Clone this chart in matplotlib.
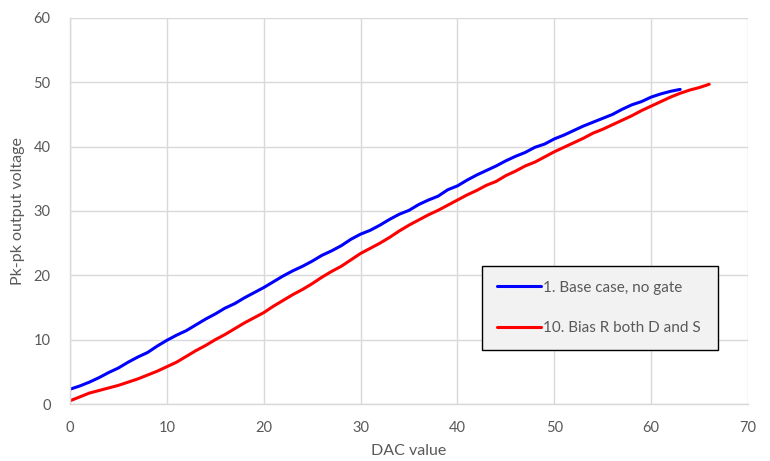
import matplotlib.pyplot as plt

# Pk-pk output vs DAC code, one reading per DAC step
base_case = [
    2.3, 2.8, 3.4, 4.1, 4.9, 5.6, 6.5, 7.3, 8.0, 9.0,
    9.9, 10.7, 11.4, 12.3, 13.2, 14.0, 14.9, 15.6, 16.5, 17.3,
    18.1, 19.0, 19.9, 20.7, 21.4, 22.2, 23.1, 23.8, 24.6, 25.6,
    26.4, 27.0, 27.8, 28.7, 29.5, 30.1, 31.0, 31.7, 32.3, 33.3,
    33.9, 34.8, 35.6, 36.3, 37.0, 37.8, 38.5, 39.1, 39.9, 40.4,
    41.2, 41.8, 42.5, 43.2, 43.8, 44.4, 45.0, 45.8, 46.5, 47.0,
    47.7, 48.2, 48.6, 48.9,
]
bias_r = [
    0.5, 1.1, 1.7, 2.1, 2.5, 2.9, 3.4, 3.9, 4.5, 5.1,
    5.8, 6.5, 7.4, 8.3, 9.1, 10.0, 10.8, 11.7, 12.6, 13.4,
    14.2, 15.2, 16.1, 17.0, 17.8, 18.7, 19.7, 20.6, 21.4, 22.4,
    23.4, 24.2, 25.0, 25.9, 26.9, 27.8, 28.6, 29.4, 30.1, 30.9,
    31.7, 32.5, 33.2, 34.0, 34.6, 35.5, 36.2, 37.0, 37.6, 38.4,
    39.2, 39.9, 40.6, 41.3, 42.1, 42.7, 43.4, 44.1, 44.8, 45.6,
    46.3, 47.0, 47.7, 48.3, 48.8, 49.2, 49.7,
]
series_labels = ["1. Base case, no gate", "10. Bias R both D and S"]
x_ticks = [0, 10, 20, 30, 40, 50, 60, 70]
y_ticks = [0, 10, 20, 30, 40, 50, 60]

text_grey = "#595959"
grid_grey = "#d9d9d9"

plt.rcParams["font.family"] = ["Lato", "DejaVu Sans"]

fig = plt.figure(figsize=(7.7, 4.61), dpi=100)
ax = fig.add_axes([0.0909, 0.1236, 0.8805, 0.8374])

ax.plot(range(len(base_case)), base_case, color="#0000ff", lw=2.2,
        label=series_labels[0], solid_capstyle="round")
ax.plot(range(len(bias_r)), bias_r, color="#ff0000", lw=2.2,
        label=series_labels[1], solid_capstyle="round")

ax.set_xlim(0, 70)
ax.set_ylim(0, 60)
ax.set_xticks(x_ticks)
ax.set_yticks(y_ticks)
ax.grid(True, color=grid_grey, lw=1)
ax.set_axisbelow(True)
ax.tick_params(length=0, labelsize=10.5, labelcolor=text_grey, pad=12)
ax.tick_params(axis="y", pad=14)
for side in ("top", "right"):
    ax.spines[side].set_visible(False)
for side in ("left", "bottom"):
    ax.spines[side].set_color(grid_grey)
    ax.spines[side].set_linewidth(1)

ax.set_xlabel("DAC value", fontsize=11.5, color=text_grey, labelpad=7)
ax.set_ylabel("Pk-pk output voltage", fontsize=11.5, color=text_grey,
              labelpad=6)

# boxed legend sitting low on the right, Excel style
leg = ax.legend(loc="upper left", bbox_to_anchor=(0.608, 0.14, 0.348, 0.217),
                mode="expand", borderaxespad=0, fancybox=False,
                edgecolor="black", facecolor="#f2f2f2", framealpha=1,
                fontsize=11, handlelength=2.9, handletextpad=0.15,
                labelspacing=1.75, borderpad=0.95)
leg.get_frame().set_linewidth(1)
for txt in leg.get_texts():
    txt.set_color(text_grey)

fig.savefig("out.png", dpi=100)
